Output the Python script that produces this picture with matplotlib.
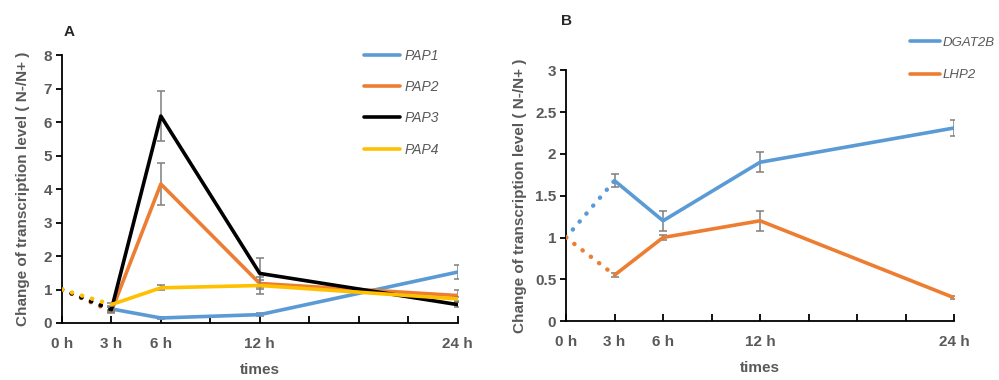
import matplotlib
matplotlib.use("Agg")
from matplotlib import pyplot as plt

plt.rcParams["font.family"] = ["Liberation Sans", "DejaVu Sans"]

hours = [0, 3, 6, 12, 24]
tick_pos = [0, 3, 6, 9, 12, 15, 18, 21, 24]
tick_labels = ["0 h", "3 h", "6 h", "", "12 h", "", "", "", "24 h"]

# panel A
pap1 = [1.0, 0.42, 0.15, 0.25, 1.52]
pap1_err = [0, 0.05, 0.03, 0.04, 0.22]
pap2 = [1.0, 0.35, 4.15, 1.18, 0.82]
pap2_err = [0, 0.05, 0.63, 0.1, 0.18]
pap3 = [1.0, 0.40, 6.18, 1.48, 0.55]
pap3_err = [0, 0.08, 0.75, 0.45, 0.08]
pap4 = [1.0, 0.55, 1.05, 1.12, 0.72]
pap4_err = [0, 0.04, 0.07, 0.25, 0.05]

# panel B
dgat2b = [1.0, 1.68, 1.20, 1.90, 2.31]
dgat2b_err = [0, 0.08, 0.12, 0.12, 0.10]
lhp2 = [1.0, 0.55, 1.00, 1.20, 0.28]
lhp2_err = [0, 0.02, 0.03, 0.12, 0.02]

gray = "#595959"
dots = (0, (0.05, 2.3))


def draw(ax, values, errs, color, label, z):
    ax.plot(hours[:2], values[:2], color=color, lw=3.2, linestyle=dots,
            dash_capstyle="round", zorder=z)
    ax.errorbar(hours[1:], values[1:], yerr=errs[1:], fmt="none",
                ecolor="#7f7f7f", elinewidth=1.1, capsize=3, capthick=1.1, zorder=z)
    ax.plot(hours[1:], values[1:], color=color, lw=2.6, label=label, zorder=z,
            solid_capstyle="round")


def style(ax, ymax, ystep, fmt, ypad):
    ax.set_xlim(0, 24)
    ax.set_ylim(0, ymax)
    yt = [i * ystep for i in range(int(round(ymax / ystep)) + 1)]
    ax.set_yticks(yt)
    ax.set_yticklabels([fmt(v) for v in yt])
    ax.set_xticks(tick_pos)
    ax.set_xticklabels(tick_labels)
    for s in ["top", "right"]:
        ax.spines[s].set_visible(False)
    for s in ["left", "bottom"]:
        ax.spines[s].set_linewidth(1.3)
    ax.tick_params(axis="x", direction="in", length=5, width=1.3, pad=10,
                   labelsize=11, labelcolor=gray)
    ax.tick_params(axis="y", direction="out", length=4, width=1.3, pad=3,
                   labelsize=11, labelcolor=gray)
    for t in ax.get_xticklabels() + ax.get_yticklabels():
        t.set_fontweight("bold")
    ax.set_xlabel("times", fontsize=11, fontweight="bold", color=gray, labelpad=9)
    ax.set_ylabel("Change of transcription level ( N-/N+ )", fontsize=11,
                  fontweight="bold", color=gray, labelpad=ypad)


fig = plt.figure(figsize=(9.99, 3.8), dpi=100)

ax1 = fig.add_axes([0.062, 0.15, 0.396, 0.705])
draw(ax1, pap1, pap1_err, "#5B9BD5", "PAP1", 3)
draw(ax1, pap2, pap2_err, "#ED7D31", "PAP2", 4)
draw(ax1, pap3, pap3_err, "#000000", "PAP3", 5)
draw(ax1, pap4, pap4_err, "#FFC000", "PAP4", 6)
style(ax1, 8, 1, lambda v: f"{v:g}", 10)
leg1 = ax1.legend(loc="upper left", bbox_to_anchor=(0.352, 0.905), bbox_transform=fig.transFigure,
                  frameon=False, handlelength=2.6, handletextpad=0.3, labelspacing=1.25,
                  prop={"style": "italic", "size": 10})
fig.text(0.064, 0.905, "A", fontsize=11, fontweight="bold", color="#262626")

ax2 = fig.add_axes([0.5666, 0.155, 0.3884, 0.66])
draw(ax2, dgat2b, dgat2b_err, "#5B9BD5", "DGAT2B", 3)
draw(ax2, lhp2, lhp2_err, "#ED7D31", "LHP2", 4)
style(ax2, 3, 0.5, lambda v: f"{v:g}", 6)
leg2 = ax2.legend(loc="upper left", bbox_to_anchor=(0.899, 0.935), bbox_transform=fig.transFigure,
                  frameon=False, handlelength=2.3, handletextpad=0.2, labelspacing=1.55,
                  prop={"style": "italic", "size": 9.5})
fig.text(0.562, 0.935, "B", fontsize=11, fontweight="bold", color="#262626")

for leg in (leg1, leg2):
    for t in leg.get_texts():
        t.set_color(gray)

fig.savefig("out.png", dpi=100, facecolor="white")
